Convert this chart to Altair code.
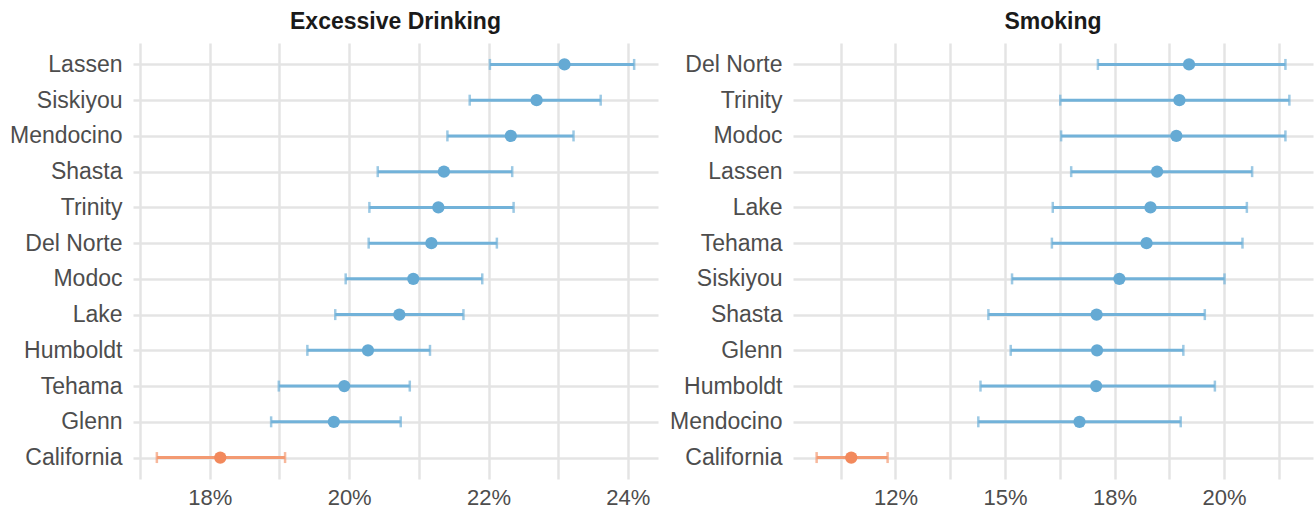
import altair as alt
import pandas as pd

# Excessive drinking: county estimates with confidence intervals (percent)
drink_county = ["Lassen", "Siskiyou", "Mendocino", "Shasta", "Trinity", "Del Norte",
                "Modoc", "Lake", "Humboldt", "Tehama", "Glenn", "California"]
drink_est = [23.09, 22.69, 22.32, 21.36, 21.28, 21.18, 20.92, 20.72, 20.27, 19.93, 19.78, 18.15]
drink_lo = [22.02, 21.73, 21.41, 20.41, 20.29, 20.28, 19.95, 19.80, 19.40, 18.99, 18.88, 17.24]
drink_hi = [24.09, 23.61, 23.22, 22.34, 22.36, 22.12, 21.91, 21.64, 21.16, 20.87, 20.74, 19.08]

# Smoking: county estimates with confidence intervals (percent)
smoke_county = ["Del Norte", "Trinity", "Modoc", "Lassen", "Lake", "Tehama",
                "Siskiyou", "Shasta", "Glenn", "Humboldt", "Mendocino", "California"]
smoke_est = [19.20, 18.98, 18.91, 18.47, 18.32, 18.23, 17.61, 17.09, 17.10, 17.08, 16.70, 11.49]
smoke_lo = [17.12, 16.26, 16.28, 16.51, 16.09, 16.07, 15.16, 14.62, 15.13, 14.44, 14.39, 10.70]
smoke_hi = [21.40, 21.49, 21.40, 20.64, 20.52, 20.42, 20.01, 19.56, 19.07, 19.79, 19.01, 12.32]

# Axis breaks, labels and gridlines
drink_ticks = [18, 20, 22, 24]
drink_tick_labels = ["18%", "20%", "22%", "24%"]
drink_grid = [17, 18, 19, 20, 21, 22, 23, 24]

smoke_ticks = [12.5, 15, 17.5, 20]
smoke_tick_labels = ["12%", "15%", "18%", "20%"]
smoke_grid = [11.25, 12.5, 13.75, 15, 16.25, 17.5, 18.75, 20, 21.25]

STATE = "California"
BLUE, BLUE_BAR = "#65aad4", "#72b2d9"
ORANGE, ORANGE_BAR = "#f2895c", "#f39a72"
GRID = "#e4e4e4"
FONT = "Liberation Sans"


def label_expr(values, labels):
    expr = "''"
    for v, lab in reversed(list(zip(values, labels))):
        expr = f"datum.value == {v} ? '{lab}' : ({expr})"
    return expr


def panel(title, county, est, lo, hi, ticks, tick_labels, grid, width):
    df = pd.DataFrame({
        "county": county, "est": est, "lo": lo, "hi": hi,
        "group": ["State" if c == STATE else "County" for c in county],
    })
    span = max(hi) - min(lo)
    domain = [min(lo) - 0.05 * span, max(hi) + 0.05 * span]

    x_scale = alt.Scale(domain=domain, nice=False, zero=False)
    y_enc = alt.Y(
        "county:N", sort=county,
        scale=alt.Scale(type="point", padding=0.6),
        axis=alt.Axis(title=None, ticks=False, tickSize=0, domain=False,
                      labelFontSize=23, labelFont=FONT, labelColor="#4d4d4d",
                      labelPadding=11, grid=True, gridColor=GRID, gridWidth=2.5,
                      minExtent=125, maxExtent=125),
    )
    bar_color = alt.Color("group:N", legend=None,
                          scale=alt.Scale(domain=["County", "State"], range=[BLUE_BAR, ORANGE_BAR]))
    pt_color = alt.Color("group:N", legend=None,
                         scale=alt.Scale(domain=["County", "State"], range=[BLUE, ORANGE]))

    base = alt.Chart(df)
    bars = base.mark_rule(strokeWidth=3).encode(
        x=alt.X("lo:Q", scale=x_scale,
                axis=alt.Axis(title=None, values=grid, labelExpr=label_expr(ticks, tick_labels),
                              ticks=False, tickSize=0, domain=False, labelFontSize=22,
                              labelFont=FONT, labelColor="#4d4d4d", labelPadding=8,
                              grid=True, gridColor=GRID, gridWidth=2.5, labelFlush=False)),
        x2="hi:Q", y=y_enc, color=bar_color,
    )
    cap_lo = base.mark_tick(size=11, thickness=2.5).encode(x=alt.X("lo:Q", scale=x_scale), y=y_enc, color=bar_color)
    cap_hi = base.mark_tick(size=11, thickness=2.5).encode(x=alt.X("hi:Q", scale=x_scale), y=y_enc, color=bar_color)
    points = base.mark_circle(size=150, opacity=1).encode(
        x=alt.X("est:Q", scale=x_scale), y=y_enc, color=pt_color)

    return alt.layer(bars, cap_lo, cap_hi, points).resolve_scale(color="independent").properties(
        width=width, height=436,
        title=alt.TitleParams(title, fontSize=23, fontWeight="bold", font=FONT, color="#1a1a1a",
                              anchor="middle", frame="group", offset=9),
    )


left = panel("Excessive Drinking", drink_county, drink_est, drink_lo, drink_hi,
             drink_ticks, drink_tick_labels, drink_grid, 525)
right = panel("Smoking", smoke_county, smoke_est, smoke_lo, smoke_hi,
              smoke_ticks, smoke_tick_labels, smoke_grid, 520)

chart = alt.hconcat(left, right, spacing=10).properties(
    padding={"left": 8, "top": 11, "right": 2, "bottom": 0},
    background="white",
).configure_view(stroke=None)

chart.save("out.html", embed_options={"renderer": "svg", "actions": False})
